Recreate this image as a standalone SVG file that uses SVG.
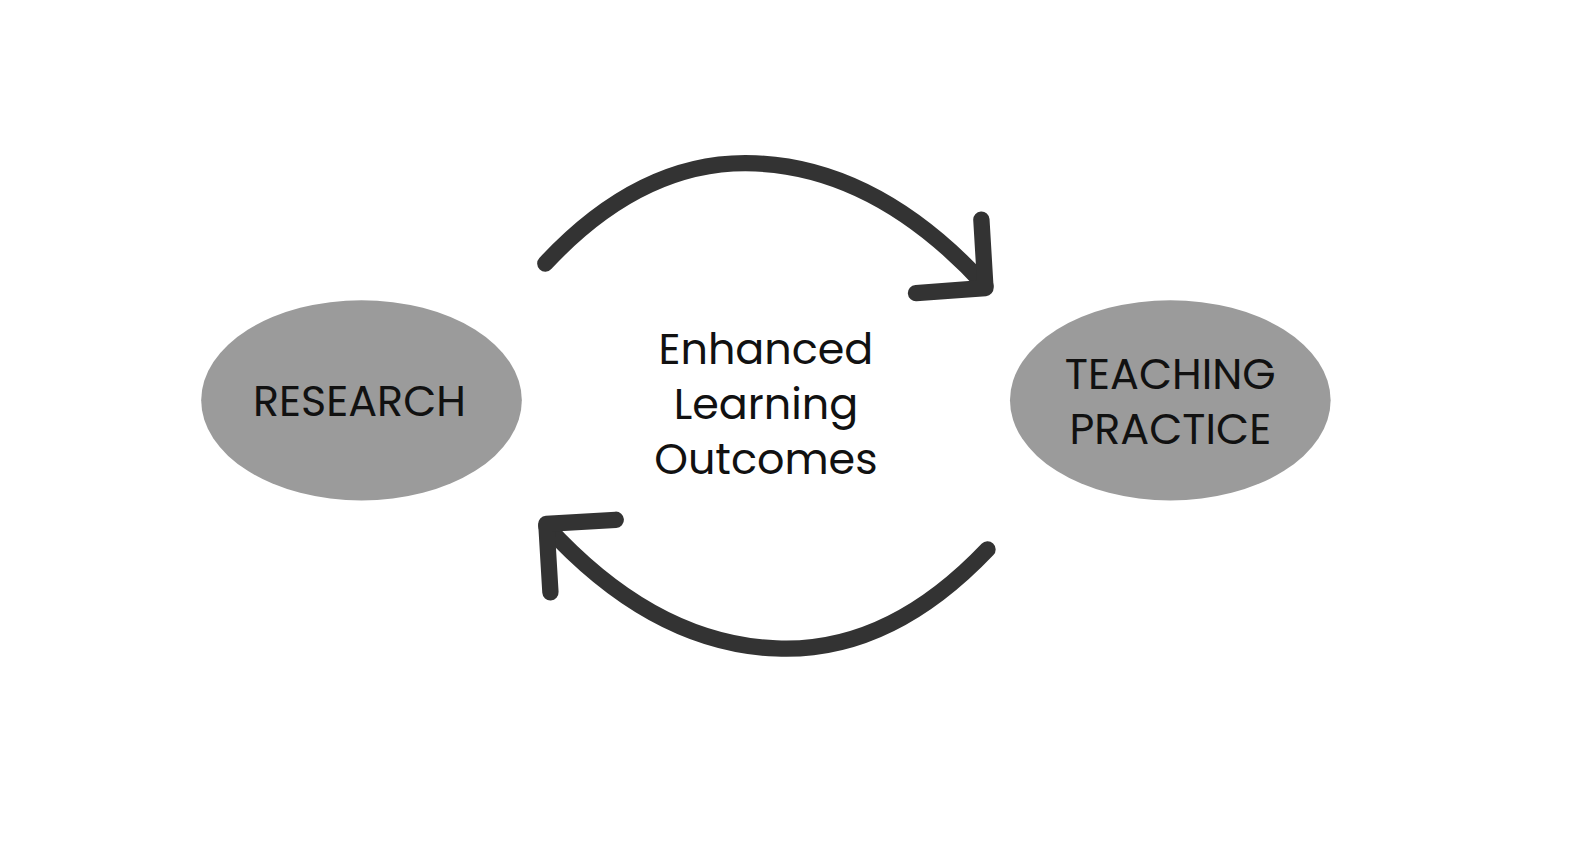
<svg xmlns="http://www.w3.org/2000/svg" width="1593" height="857" viewBox="0 0 1593 857">
<style>
.n{fill:#9b9b9b}
.t{font-family:Poppins,"Open Sans","Liberation Sans",sans-serif;font-size:42px;fill:#111;text-anchor:middle}
.a{fill:none;stroke:#333;stroke-width:16;stroke-linecap:round;stroke-linejoin:round}
</style>
<rect width="1593" height="857" fill="#fff"/>
<g transform="scale(1.0212)">
<g id="research"><ellipse class="n" cx="354" cy="392" rx="157" ry="98"/><text class="t" x="352" y="407">RESEARCH</text></g>
<g id="teaching"><ellipse class="n" cx="1146" cy="392" rx="157" ry="98"/><text class="t" x="1146" y="381">TEACHING</text><text class="t" x="1146" y="435">PRACTICE</text></g>
<g id="center"><text class="t" x="750" y="356">Enhanced</text><text class="t" x="750" y="410">Learning</text><text class="t" x="750" y="464">Outcomes</text></g>
<g id="connectors">
<path class="a" d="M534 258 Q630 155 740 160 Q860 165 965 280"/>
<path class="a" d="M961 215 L965 282 L897 287"/>
<path class="a" d="M967 538 Q870 640 760 635 Q640 630 535 515"/>
<path class="a" d="M539 580 L535 513 L603 509"/>
</g>
</g>
</svg>
